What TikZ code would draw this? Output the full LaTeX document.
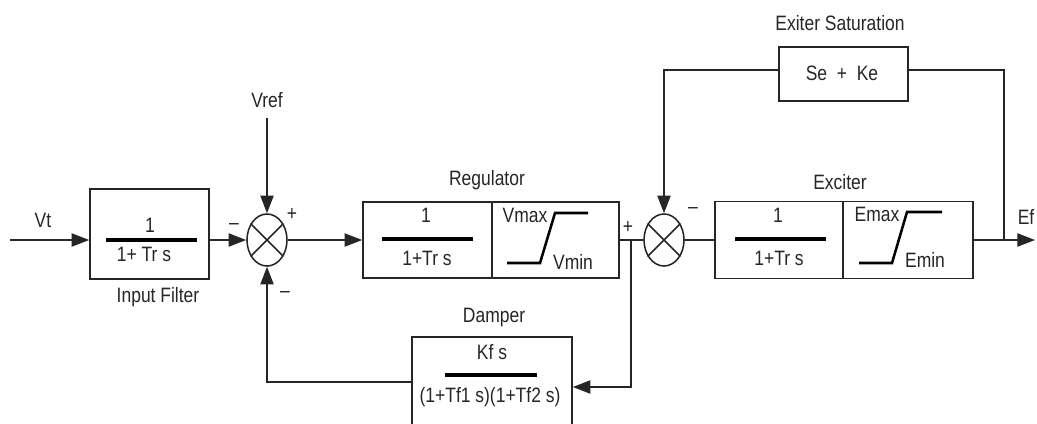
\documentclass[tikz,border=0pt]{standalone}
\usepackage{fontspec}
\setmainfont{Liberation Sans}[FakeStretch=0.84]
\usetikzlibrary{arrows.meta,shapes.geometric}
\begin{document}
\begin{tikzpicture}[x=0.025cm,y=-0.025cm,
  ln/.style={draw=black!85,line width=1.1pt},
  arr/.style={ln,-{Triangle[length=0.44cm,width=0.33cm]}},
  blk/.style={draw=black!85,line width=1.1pt,rectangle,inner sep=0pt},
  sumj/.style={draw=black!85,line width=1.1pt,ellipse,minimum width=1cm,minimum height=1.3cm,inner sep=0pt},
  lbl/.style={text=black!85,font=\fontsize{14.8}{17}\selectfont,inner sep=0pt},
  fracl/.style={line width=2.2pt,black},
  satl/.style={line width=1.8pt,black}]
\useasboundingbox (0,0) rectangle (1037,423);
\clip (0,0) rectangle (1037,423);
% blocks
\node[blk,minimum width=2.975cm,minimum height=2.25cm] (inf) at (149.5,234) {};
\node[sumj] (s1) at (267,240) {};
\node[blk,minimum width=3.225cm,minimum height=1.9cm] (reg1) at (427.5,240) {};
\node[blk,minimum width=3.175cm,minimum height=1.9cm] (reg2) at (555.5,240) {};
\node[sumj] (s2) at (664,240) {};
\node[blk,minimum width=3.2cm,minimum height=1.925cm] (exc1) at (779,240) {};
\node[blk,minimum width=3.25cm,minimum height=1.925cm] (exc2) at (908,240) {};
\node[blk,minimum width=3.225cm,minimum height=1.35cm] (sk) at (843.5,74) {};
\node[blk,minimum width=4cm,minimum height=2.575cm] (dmp) at (492,388.5) {};
% summer crosses
\draw[ln] (s1.45) -- (s1.225) (s1.135) -- (s1.315);
\draw[ln] (s2.45) -- (s2.225) (s2.135) -- (s2.315);
% fraction bars
\draw[fracl] (106,240) -- (197,240);
\draw[fracl] (382,239) -- (473,239);
\draw[fracl] (735,239) -- (826,239);
\draw[fracl] (445,375) -- (537,375);
% saturation curves
\draw[satl] (507,263) -- (540,263) -- (555,213) -- (588,213);
\draw[satl] (859,263) -- (892,263) -- (907,212) -- (942,212);
% coordinates
\coordinate (vt) at (10,240);
\coordinate (vr) at (267,118);
\coordinate (br1) at (631,240);
\coordinate (br1b) at (631,387);
\coordinate (d1) at (267,382);
\coordinate (br2) at (1004,240);
\coordinate (br2t) at (1004,70);
\coordinate (s2t) at (664,70);
\coordinate (ef) at (1035,240);
% connectors
\draw[arr] (vt) -- (inf.west |- vt);
\draw[arr] (inf.east |- vt) -- (s1.west);
\draw[arr] (vr) -- (s1.north);
\draw[arr] (s1.east) -- (reg1.west);
\draw[ln] (reg2.east) -- (s2.west);
\draw[arr] (br1) -- (br1b) -- (dmp.east |- br1b);
\draw[arr] (dmp.west |- d1) -- (d1) -- (s1.south);
\draw[ln] (s2.east) -- (exc1.west);
\draw[arr] (exc2.east) -- (ef);
\draw[ln] (br2) -- (br2t) -- (sk.east |- br2t);
\draw[arr] (sk.west |- s2t) -- (s2t) -- (s2.north);
% labels
\node[lbl] (tvt) at (43,220) {Vt};
\node[lbl] (tm1) at (234,227) {–};
\node[lbl] (tp1) at (292,214) {+};
\node[lbl] (tm2) at (285,295) {–};
\node[lbl] (tinf) at (158,297) {Input Filter};
\node[lbl] (tvref) at (267,100) {Vref};
\node[lbl] (treg) at (487,180) {Regulator};
\node[lbl] (tp2) at (628,227) {+};
\node[lbl] (tm3) at (693,211) {–};
\node[lbl] (texc) at (840,182) {Exciter};
\node[lbl] (tes) at (840,23) {Exiter Saturation};
\node[lbl] (tsk) at (842,73) {Se\ \ + \ Ke};
\node[lbl] (tef) at (1026,217) {Ef};
\node[lbl] (tdmp) at (494,317) {Damper};
% block contents
\node[lbl] (n1) at (150,225) {1};
\node[lbl] (d1t) at (144,254) {1+ Tr s};
\node[lbl] (n2) at (426,215) {1};
\node[lbl] (d2t) at (427,258) {1+Tr s};
\node[lbl] (vmax) at (525,215) {Vmax};
\node[lbl] (vmin) at (573,262) {Vmin};
\node[lbl] (n3) at (778,215) {1};
\node[lbl] (d3t) at (779,258) {1+Tr s};
\node[lbl] (emax) at (877,214) {Emax};
\node[lbl] (emin) at (925,260) {Emin};
\node[lbl] (n4) at (492,352) {Kf s};
\node[lbl] (d4t) at (490,397) {(1+Tf1 s)(1+Tf2 s)};
\end{tikzpicture}
\end{document}
